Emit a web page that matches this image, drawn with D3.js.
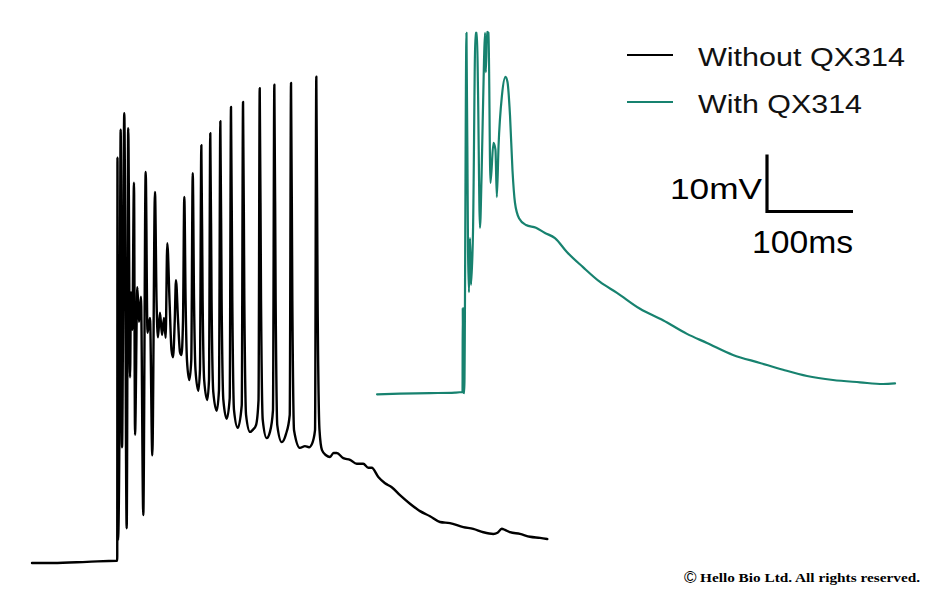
<!DOCTYPE html>
<html>
<head>
<meta charset="utf-8">
<script src="https://cdn.jsdelivr.net/npm/d3@7/dist/d3.min.js"></script>
<style>
  html, body { margin: 0; padding: 0; background: #ffffff; }
  svg { display: block; }
</style>
</head>
<body>
<div id="chart"></div>
<script>
// ---- data (time in ms, membrane potential in mV) ----
const seriesNames = ["Without QX314", "With QX314"];
const seriesColors = ["#000000", "#17826f"];

const blackT = [0, 24.4, 64, 98.5, 99.1, 99.4, 100.0, 101.7, 103.1, 104.7, 107.3, 110.1, 111.9, 114.0, 115.1, 116.6,
  118.6, 119.8, 122.5, 124.4, 126.7, 129.4, 132.2, 134.3, 137.2, 139.9, 143.0, 144.8, 146.5, 148.8, 151.2, 153.5,
  155.4, 157.3, 159.9, 162.2, 164.0, 166.0, 167.4, 169.8, 172.1, 173.8, 175.6, 177.1, 178.6, 180.2, 182.9, 185.2,
  186.9, 188.4, 190.1, 193.4, 195.3, 196.9, 198.4, 200.2, 203.8, 205.8, 207.3, 208.8, 210.8, 214.8, 217.4, 219.0,
  220.5, 222.5, 226.4, 229.9, 231.4, 232.9, 234.9, 239.2, 243.9, 245.4, 246.9, 248.9, 253.5, 257.0, 260.5, 263.4,
  264.8, 266.3, 268.3, 272.9, 276.7, 280.2, 281.8, 283.3, 285.2, 290.4, 295.3, 299.7, 301.2, 302.7, 304.7, 311.6,
  317.4, 322.1, 325.6, 329.1, 330.6, 332.1, 334.3, 337.2, 341.9, 346.5, 350.6, 354.3, 362.0, 369.8, 377.6, 385.2,
  391.0, 395.0, 402.7, 410.5, 418.3, 427.9, 439.5, 451.2, 462.8, 474.4, 486.0, 501.5, 513.1, 524.8, 536.4, 541.3,
  546.2, 550.0, 555.8, 567.4, 579.1, 590.7, 599.2];
const blackV = [-70.0, -70.0, -69.8, -69.6, -69.6, 1.1, -66.0, -46.7, 6.0, -49.7, 8.9, -63.9, 6.3, -37.4, -22.5, -29.1,
  -3.3, -47.5, -21.6, -27.7, -23.3, -61.6, -1.4, -29.6, -27.0, -51.1, -4.9, -23.9, -30.4, -26.1, -30.0, -27.0,
  -30.5, -13.9, -23.9, -32.6, -33.9, -27.4, -20.4, -27.4, -33.0, -33.5, -27.4, -5.8, -23.9, -34.4, -37.9, -34.4,
  -1.6, -23.9, -36.1, -39.8, -36.1, 3.3, -23.9, -37.9, -41.4, -37.9, 5.4, -23.9, -40.0, -43.3, -39.7, 7.5,
  -23.9, -41.4, -44.7, -41.1, 10.0, -23.9, -43.2, -46.3, -42.3, 10.9, -23.9, -44.0, -47.0, -46.6, -45.8, -41.4,
  13.3, -23.9, -44.9, -48.1, -47.0, -43.2, 13.9, -23.9, -45.8, -48.8, -47.4, -44.0, 14.2, -23.9, -46.7, -49.8,
  -49.5, -49.7, -49.1, -46.7, 15.3, -23.9, -46.7, -50.2, -51.1, -51.4, -50.7, -50.7, -51.6, -51.9, -52.6, -52.6,
  -53.3, -53.3, -54.9, -56.0, -56.7, -58.1, -59.6, -60.9, -61.8, -62.8, -63.0, -63.7, -64.0, -64.6, -64.9, -64.7,
  -64.0, -64.2, -64.6, -64.9, -65.4, -65.6, -65.8];

const tealT = [401.2, 427.9, 462.8, 491.9, 500.6, 500.9, 501.4, 502.6, 505.2, 507.0, 508.1, 509.3, 510.5, 512.8,
  515.7, 517.4, 518.6, 520.9, 522.7, 525.6, 526.8, 527.7, 529.1, 530.8, 533.1, 536.6, 538.9, 540.5, 542.5, 546.5,
  550.6, 552.9, 555.8, 558.7, 561.6, 566.3, 574.4, 586.0, 596.5, 608.1, 621.7, 640.7, 660.5, 680.2, 707.0, 733.7,
  761.6, 784.9, 815.1, 846.5, 873.3, 901.2, 931.4, 962.8, 989.5, 1003.5];
const tealV = [-40.4, -40.3, -40.2, -40.1, -40.0, -25.3, -40.0, -40.2, 23.0, -15.1, -22.5, -13.0, -21.2, -11.9,
  23.0, 23.0, 13.0, -11.2, -2.5, 18.2, 23.0, 16.1, 23.2, 23.0, -3.3, 3.7, 2.5, -5.8, 3.2, 12.1,
  15.3, 14.4, 8.6, -1.1, -6.8, -9.5, -10.7, -11.2, -12.1, -13.0, -15.4, -18.1, -20.7, -22.6, -25.4, -27.4,
  -29.8, -31.4, -33.5, -34.9, -36.1, -37.2, -37.9, -38.3, -38.6, -38.5];

const scaleBarMs = 100;
const scaleBarMv = 10;
const scaleBarLabels = ["10mV", "100ms"];
const copyrightSymbol = "\u00A9";
const copyrightText = "Hello Bio Ltd. All rights reserved.";

// ---- drawing ----
const W = 939, H = 595;
const svg = d3.select("#chart").append("svg").attr("width", W).attr("height", H);

const x = d3.scaleLinear().domain([0, 1000]).range([32, 892]);
const y = d3.scaleLinear().domain([-70, 30]).range([563, -7]);

const line = d3.line().x(d => x(d[0])).y(d => y(d[1])).curve(d3.curveMonotoneX);

const blackData = blackT.map((t, i) => [t, blackV[i]]);
const tealData = tealT.map((t, i) => [t, tealV[i]]);

svg.append("path").datum(blackData)
  .attr("d", line).attr("fill", "none")
  .attr("stroke", seriesColors[0]).attr("stroke-width", 2.4)
  .attr("stroke-linejoin", "round").attr("stroke-linecap", "round");

svg.append("path").datum(tealData)
  .attr("d", line).attr("fill", "none")
  .attr("stroke", seriesColors[1]).attr("stroke-width", 2.2)
  .attr("stroke-linejoin", "round").attr("stroke-linecap", "round");

// legend
const legend = svg.append("g").attr("transform", "translate(627,55)");
const legendWidths = [207, 164];
seriesNames.forEach((name, i) => {
  const g = legend.append("g").attr("transform", `translate(0,${i * 47})`);
  g.append("line").attr("x1", 0).attr("x2", 46).attr("y1", 0).attr("y2", 0)
    .attr("stroke", seriesColors[i]).attr("stroke-width", 2);
  g.append("text").attr("x", 71).attr("y", 10.5)
    .attr("font-family", "Liberation Sans, Arial, sans-serif")
    .attr("font-size", 26.5).attr("fill", "#111")
    .attr("textLength", legendWidths[i]).attr("lengthAdjust", "spacingAndGlyphs")
    .text(name);
});

// scale bar
const sbX = 767, sbY = 211.5;
const sbLenX = x(scaleBarMs) - x(0);
const sbLenY = y(-70) - y(-70 + scaleBarMv);
const sb = svg.append("g");
sb.append("path")
  .attr("d", `M${sbX},${sbY - sbLenY}V${sbY}H${sbX + sbLenX}`)
  .attr("fill", "none").attr("stroke", "#000").attr("stroke-width", 3.2);
sb.append("text").attr("x", 670).attr("y", 198.5)
  .attr("font-family", "Liberation Sans, Arial, sans-serif")
  .attr("font-size", 30).attr("fill", "#000")
  .attr("textLength", 92).attr("lengthAdjust", "spacingAndGlyphs")
  .text(scaleBarLabels[0]);
sb.append("text").attr("x", 752).attr("y", 253)
  .attr("font-family", "Liberation Sans, Arial, sans-serif")
  .attr("font-size", 31).attr("fill", "#000")
  .attr("textLength", 101).attr("lengthAdjust", "spacingAndGlyphs")
  .text(scaleBarLabels[1]);

// copyright
svg.append("text").attr("x", 684).attr("y", 583)
  .attr("font-family", "Liberation Sans, Arial, sans-serif")
  .attr("font-size", 17).attr("fill", "#000")
  .text(copyrightSymbol);
svg.append("text").attr("x", 700).attr("y", 582)
  .attr("font-family", "Liberation Serif, Times New Roman, serif")
  .attr("font-weight", "bold").attr("font-size", 13).attr("fill", "#000")
  .attr("textLength", 220).attr("lengthAdjust", "spacingAndGlyphs")
  .text(copyrightText);
</script>
</body>
</html>
